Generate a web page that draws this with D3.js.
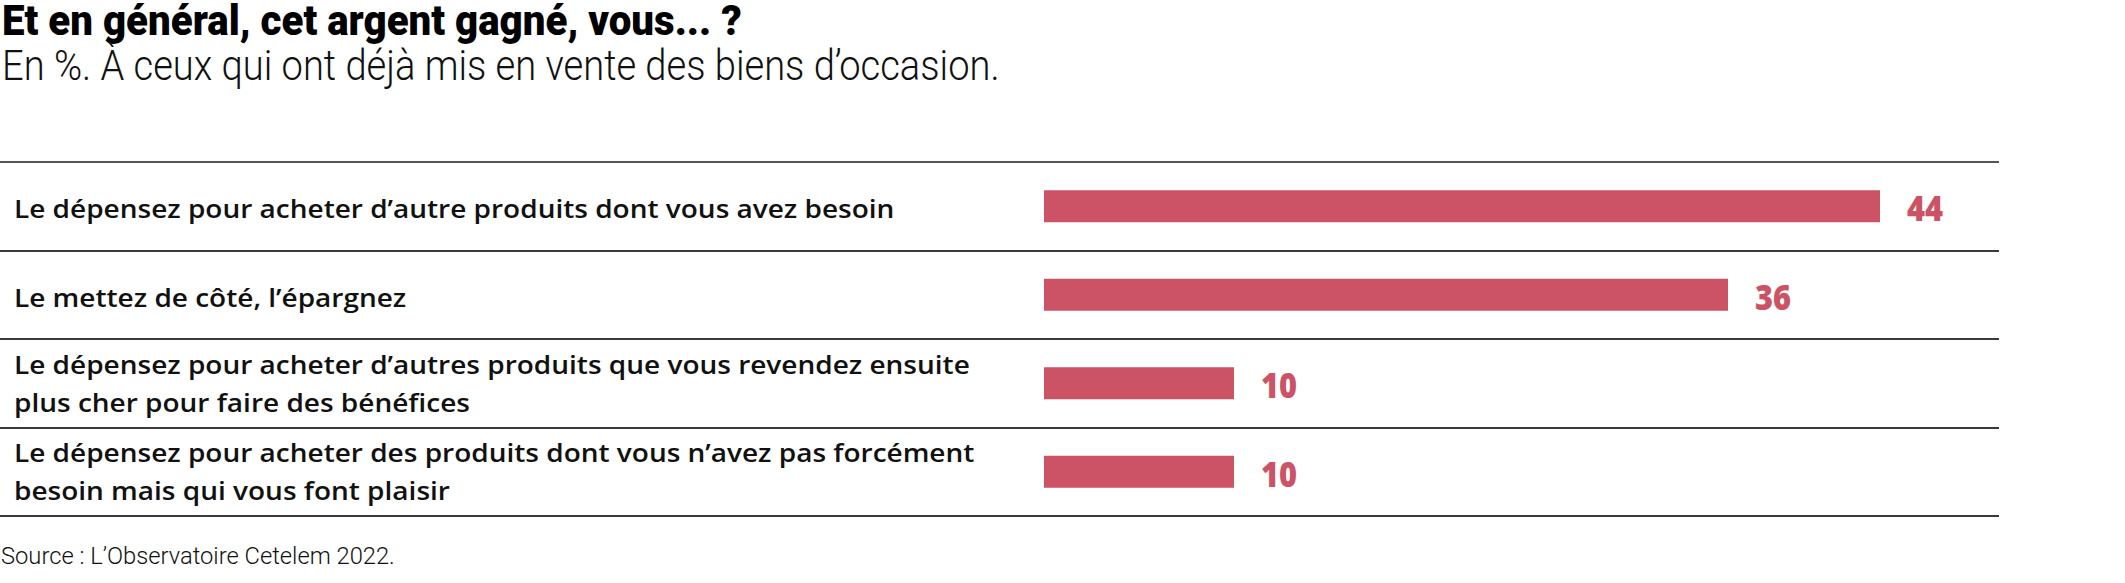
<!DOCTYPE html>
<html>
<head>
<meta charset="utf-8">
<script src="https://cdn.jsdelivr.net/npm/d3@7"></script>
<style>
  html, body { margin: 0; padding: 0; background: #fff; }
  svg { display: block; }
</style>
</head>
<body>
<svg id="chart" width="2125" height="583"></svg>
<script>
const categories = [
  "Le dépensez pour acheter d’autre produits dont vous avez besoin",
  "Le mettez de côté, l’épargnez",
  "Le dépensez pour acheter d’autres produits que vous revendez ensuite plus cher pour faire des bénéfices",
  "Le dépensez pour acheter des produits dont vous n’avez pas forcément besoin mais qui vous font plaisir"
];
const categoryLines = [
  ["Le dépensez pour acheter d’autre produits dont vous avez besoin"],
  ["Le mettez de côté, l’épargnez"],
  ["Le dépensez pour acheter d’autres produits que vous revendez ensuite", "plus cher pour faire des bénéfices"],
  ["Le dépensez pour acheter des produits dont vous n’avez pas forcément", "besoin mais qui vous font plaisir"]
];
const values = [44, 36, 10, 10];
const titleText = "Et en général, cet argent gagné, vous... ?";
const subtitleText = "En %. À ceux qui ont déjà mis en vente des biens d’occasion.";
const sourceText = "Source : L’Observatoire Cetelem 2022.";

const svg = d3.select("#chart");
const barColor = "#cc5265";
const textColor = "#111";

const y = d3.scaleBand().domain(categories).range([162, 516]).padding(0);
const x = d3.scaleLinear().domain([0, 44]).range([1044, 1880]);

// Fit a text element horizontally to a target width by scaling its glyphs
function fitWidth(sel, x0, target) {
  const w = sel.node().getComputedTextLength();
  const k = w > 0 ? target / w : 1;
  sel.attr("transform", `translate(${x0},0) scale(${k},1) translate(${-x0},0)`);
  return k;
}

// Title / subtitle / source
const title = svg.append("text").attr("x", 2).attr("y", 35)
  .attr("font-family", "Roboto, 'Liberation Sans', sans-serif")
  .attr("font-weight", 900).attr("font-size", 42).attr("fill", "#000")
  .text(titleText);
fitWidth(title, 2, 740);
const subtitle = svg.append("text").attr("x", 2).attr("y", 80)
  .attr("font-family", "Roboto, 'Liberation Sans', sans-serif")
  .attr("font-weight", 300).attr("font-size", 42).attr("fill", textColor)
  .text(subtitleText);
fitWidth(subtitle, 2, 998);
const source = svg.append("text").attr("x", 1).attr("y", 564)
  .attr("font-family", "Roboto, 'Liberation Sans', sans-serif")
  .attr("font-weight", 300).attr("font-size", 23).attr("fill", textColor)
  .text(sourceText);
fitWidth(source, 1, 394);

// Row separator lines
const boundaries = categories.map(c => y(c)).concat([y(categories[categories.length - 1]) + y.bandwidth()]);
svg.append("g").selectAll("line").data(boundaries).join("line")
  .attr("x1", 0).attr("x2", 1999)
  .attr("y1", d => Math.round(d)).attr("y2", d => Math.round(d))
  .attr("stroke", (d, i) => i === 0 ? "#555" : "#3a3a3a")
  .attr("stroke-width", 2);

// Bars
const barH = 32;
svg.append("g").selectAll("rect").data(categories).join("rect")
  .attr("x", x(0))
  .attr("y", d => y(d) + y.bandwidth() / 2 - barH / 2)
  .attr("width", (d, i) => x(values[i]) - x(0))
  .attr("height", barH)
  .attr("fill", barColor);

// Value labels
svg.append("g").selectAll("text").data(categories).join("text")
  .attr("x", (d, i) => x(values[i]) + 27)
  .attr("y", d => y(d) + y.bandwidth() / 2 + 15)
  .attr("font-family", "'Open Sans', sans-serif")
  .attr("font-weight", 800).attr("font-size", 35)
  .attr("fill", barColor)
  .attr("textLength", 36).attr("lengthAdjust", "spacingAndGlyphs")
  .text((d, i) => values[i]);

// Category labels
const labelG = svg.append("g");
const labels = labelG.selectAll("text").data(categories).join("text")
  .attr("font-family", "'Open Sans', sans-serif")
  .attr("font-weight", 600).attr("font-size", 25)
  .attr("fill", textColor);
labels.each(function(d, i) {
  const lines = categoryLines[i];
  const cy = y(d) + y.bandwidth() / 2;
  const sel = d3.select(this);
  lines.forEach((ln, j) => {
    const base = lines.length === 1 ? cy + 12 : cy - 9.5 + j * 38;
    sel.append("tspan").attr("x", 14).attr("y", base).text(ln);
  });
});
// Condense labels horizontally to match the reference's narrow face
const natural = labels.nodes()[0].getComputedTextLength();
const k = natural > 0 ? 881 / natural : 1;
labels.attr("transform", `translate(14,0) scale(${k},1) translate(-14,0)`);
</script>
</body>
</html>
